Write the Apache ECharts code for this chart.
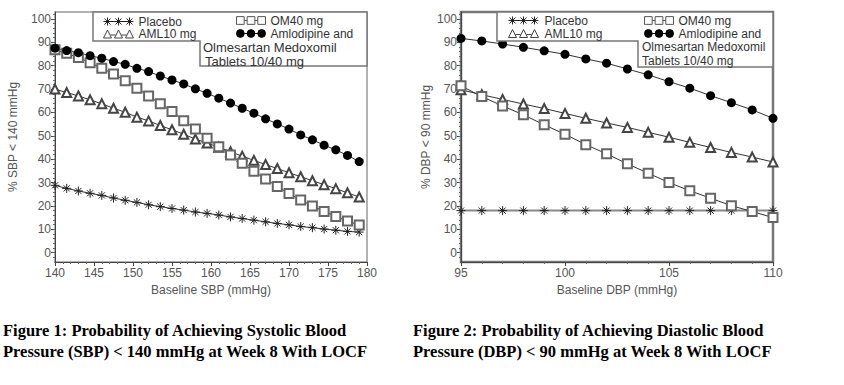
<!DOCTYPE html>
<html><head><meta charset="utf-8">
<script src="https://cdn.jsdelivr.net/npm/echarts@6/dist/echarts.min.js"></script>
<style>html,body{margin:0;padding:0;background:#fff}#c{width:844px;height:385px}</style>
</head><body><div id="c"></div>
<script>
// ---- Figure 1 data (Baseline SBP) ----
const sbpX = [140, 141.5, 143, 144.5, 146, 147.5, 149, 150.5, 152, 153.5, 155, 156.5, 158, 159.5, 161, 162.5, 164, 165.5, 167, 168.5, 170, 171.5, 173, 174.5, 176, 177.5, 179];
const sbpPlacebo = [28.8, 27.5, 26.4, 25.4, 24.5, 23.4, 22.4, 21.5, 20.5, 19.7, 18.9, 18.2, 17.4, 16.8, 16.1, 15.3, 14.6, 13.9, 13.2, 12.5, 11.9, 11.2, 10.7, 10.1, 9.6, 9.1, 8.8];
const sbpAML = [70, 68.5, 67.1, 65.4, 63.7, 61.8, 60.1, 58, 56.4, 54.4, 52.6, 50.7, 48.6, 46.9, 45.1, 43.2, 41.3, 39.5, 37.7, 36, 34.2, 32.5, 30.8, 29.1, 27.4, 25.6, 23.8];
const sbpOM = [86.8, 85.3, 83.5, 81.3, 78.9, 76.5, 73.6, 70.4, 67.1, 63.7, 60.4, 56.5, 52.9, 49, 45.3, 41.8, 38.3, 34.8, 31.5, 28.3, 25.3, 22.5, 20, 17.6, 15.5, 13.5, 11.8];
const sbpCombo = [87.5, 86.5, 85.6, 84.3, 83.2, 81.8, 80.6, 78.9, 77.5, 75.6, 73.9, 72.2, 70.1, 68.2, 66.1, 64, 61.8, 59.7, 57.3, 55.1, 52.9, 50.4, 48.3, 46, 44, 41.6, 39];

// ---- Figure 2 data (Baseline DBP) ----
const dbpX = [95, 96, 97, 98, 99, 100, 101, 102, 103, 104, 105, 106, 107, 108, 109, 110];
const dbpPlacebo = [18, 18, 18, 18, 18, 18, 18, 18, 18, 18, 18, 18, 18, 18, 18, 18];
const dbpAML = [69.7, 67.6, 65.6, 63.6, 61.7, 59.6, 57.5, 55.5, 53.6, 51.5, 49.4, 47.2, 45, 42.9, 40.9, 38.8];
const dbpOM = [71.4, 66.8, 62.8, 59, 54.7, 50.7, 46.2, 42.3, 38, 34, 30, 26.5, 23.3, 20.1, 17.6, 15];
const dbpCombo = [91.7, 90.6, 89.3, 87.9, 86.4, 84.9, 82.9, 81.1, 78.6, 76.1, 73.2, 70.4, 67.2, 64.2, 61.1, 57.5];

// ---- ticks / labels ----
const yTicks = [0, 10, 20, 30, 40, 50, 60, 70, 80, 90, 100];
const yMinorTicks = [-2, 0, 2, 4, 6, 8, 10, 12, 14, 16, 18, 20, 22, 24, 26, 28, 30, 32, 34, 36, 38, 40, 42, 44, 46, 48, 50, 52, 54, 56, 58, 60, 62, 64, 66, 68, 70, 72, 74, 76, 78, 80, 82, 84, 86, 88, 90, 92, 94, 96, 98, 100, 102];
const nPlacebo = 'Placebo', nAML = 'AML10 mg', nOM = 'OM40 mg';
const nCombo = 'Amlodipine and Olmesartan Medoxomil Tablets 10/40 mg';
const comboLine1 = 'Amlodipine and', comboLine2 = 'Olmesartan Medoxomil', comboLine3 = 'Tablets 10/40 mg';
const cap1 = 'Figure 1: Probability of Achieving Systolic Blood\nPressure (SBP) < 140 mmHg at Week 8 With LOCF';
const cap2 = 'Figure 2: Probability of Achieving Diastolic Blood\nPressure (DBP) < 90 mmHg at Week 8 With LOCF';

const FONT = 'Liberation Sans';
const starPath = 'path://M5,0L5,10M0,5L10,5M1.6,1.6L8.4,8.4M8.4,1.6L1.6,8.4';
// legend icons: three markers joined by a line
const iconStar = 'path://M0,4L30,4M4,0L4,8M1,1L7,7M7,1L1,7M15,0L15,8M12,1L18,7M18,1L12,7M26,0L26,8M23,1L29,7M29,1L23,7';
const iconTri = 'path://M0,8L4,0L8,8ZM7,5L12,5M11,8L15,0L19,8ZM18,5L23,5M22,8L26,0L30,8Z';
const iconRect = 'path://M0,0L8,0L8,8L0,8ZM8,4L11,4M11,0L19,0L19,8L11,8ZM19,4L22,4M22,0L30,0L30,8L22,8Z';
const iconCircle = 'path://M0,4A4,4,0,1,1,8,4A4,4,0,1,1,0,4ZM8,4L11,4M11,4A4,4,0,1,1,19,4A4,4,0,1,1,11,4ZM19,4L22,4M22,4A4,4,0,1,1,30,4A4,4,0,1,1,22,4Z';

const styles = {};
styles[nPlacebo] = {symbol: starPath, symbolSize: 9, itemStyle: {color: '#222', borderColor: '#222', borderWidth: 1}};
styles[nAML] = {symbol: 'emptyTriangle', symbolSize: 9, itemStyle: {color: '#444', borderWidth: 1}};
styles[nOM] = {symbol: 'emptyRect', symbolSize: 9, itemStyle: {color: '#666', borderWidth: 1}};
styles[nCombo] = {symbol: 'circle', symbolSize: 9, itemStyle: {color: '#000'}};

const legendItems = {};
legendItems[nPlacebo] = {name: nPlacebo, icon: iconStar, itemStyle: {color: 'none', borderColor: '#222', borderWidth: 1}};
legendItems[nAML] = {name: nAML, icon: iconTri, itemStyle: {color: '#fff', borderColor: '#444', borderWidth: 1}};
legendItems[nOM] = {name: nOM, icon: iconRect, itemStyle: {color: '#fff', borderColor: '#555', borderWidth: 1}};
legendItems[nCombo] = {name: nCombo, icon: iconCircle, itemStyle: {color: '#000', borderColor: '#000', borderWidth: 1}};

function mk(name, xs, ys, xi, yi, lineExtra) {
  const s = styles[name];
  return Object.assign({
    type: 'line', name: name, xAxisIndex: xi, yAxisIndex: yi,
    data: xs.map((x, i) => [x, ys[i]]),
    lineStyle: Object.assign({color: '#333', width: 1}, lineExtra || {}),
    emphasis: {disabled: true}, animation: false, z: 2
  }, s);
}

function xAxis(gi, min, max, name) {
  return {
    type: 'value', gridIndex: gi, min: min, max: max, interval: 5,
    axisLine: {show: true, onZero: false, lineStyle: {color: '#444', width: 1}},
    axisTick: {show: true, length: 4, lineStyle: {color: '#444'}},
    minorTick: {show: true, splitNumber: 5, length: 2, lineStyle: {color: '#666'}},
    axisLabel: {color: '#555', fontSize: 12, fontFamily: FONT, margin: 5},
    splitLine: {show: false}, minorSplitLine: {show: false},
    name: name, nameLocation: 'middle', nameGap: 21,
    nameTextStyle: {color: '#555', fontSize: 12, fontFamily: FONT}
  };
}
function yAxisMain(gi, name, gap) {
  return {
    type: 'value', gridIndex: gi, min: -4, max: 103, position: 'left',
    axisLine: {show: true, onZero: false, lineStyle: {color: '#444', width: 1}},
    axisTick: {show: true, customValues: yTicks, length: 4, lineStyle: {color: '#444'}},
    axisLabel: {customValues: yTicks, color: '#555', fontSize: 12, fontFamily: FONT, margin: 4},
    splitLine: {show: false},
    name: name, nameLocation: 'middle', nameGap: gap,
    nameTextStyle: {color: '#555', fontSize: 12, fontFamily: FONT}
  };
}
function yAxisMinor(gi) {
  return {
    type: 'value', gridIndex: gi, min: -4, max: 103, position: 'left', offset: 0,
    axisLine: {show: false},
    axisTick: {show: true, customValues: yMinorTicks, length: 2, lineStyle: {color: '#666'}},
    axisLabel: {show: false}, splitLine: {show: false}
  };
}

const fmt = n => (n === nCombo ? comboLine1 : n);
function legend(left, top, w, lh, names) {
  return {left: left, top: top, orient: 'vertical', padding: 0, itemGap: 0,
    itemWidth: w, itemHeight: 8, data: names.map(n => legendItems[n]), selectedMode: false,
    textStyle: {fontSize: 12, lineHeight: lh, color: '#333', fontFamily: FONT}, formatter: fmt, z: 6};
}

const chart = echarts.init(document.getElementById('c'), null, {renderer: 'svg'});
chart.setOption({
  backgroundColor: '#fff',
  animation: false,
  title: [
    {text: cap1, left: 3, top: 320, padding: 0,
     textStyle: {fontFamily: 'Liberation Serif', fontWeight: 'bold', fontSize: 16.5, lineHeight: 21, color: '#000'}},
    {text: cap2, left: 413, top: 320, padding: 0,
     textStyle: {fontFamily: 'Liberation Serif', fontWeight: 'bold', fontSize: 16.5, lineHeight: 21, color: '#000'}}
  ],
  grid: [
    {left: 55, right: 477, top: 12, bottom: 123, show: true, borderColor: '#999', borderWidth: 1.5, backgroundColor: 'transparent'},
    {left: 461, right: 71, top: 12, bottom: 123, show: true, borderColor: '#777', borderWidth: 2.5, backgroundColor: 'transparent'}
  ],
  xAxis: [xAxis(0, 140, 180, 'Baseline SBP (mmHg)'), xAxis(1, 95, 110, 'Baseline DBP (mmHg)')],
  yAxis: [yAxisMain(0, '% SBP < 140 mmHg', 36), yAxisMinor(0), yAxisMain(1, '% DBP < 90 mmHg', 29), yAxisMinor(1)],
  legend: [
    legend(101, 15, 30, 12, [nPlacebo, nAML]),
    legend(236, 14, 29, 13, [nOM, nCombo]),
    legend(506, 14, 32, 13, [nPlacebo, nAML]),
    legend(644, 14, 29, 13, [nOM, nCombo])
  ],
  graphic: [
    {type: 'polygon', z: 3, shape: {points: [[93, 12], [367, 12], [367, 66], [200, 66], [200, 41], [93, 41]]},
     style: {fill: '#fff', stroke: '#777', lineWidth: 1.5}},
    {type: 'polygon', z: 3, shape: {points: [[497, 12], [773, 12], [773, 67], [638, 67], [638, 41], [497, 41]]},
     style: {fill: '#fff', stroke: '#777', lineWidth: 1.5}},
    {type: 'text', z: 7, x: 203, y: 47, style: {text: comboLine2, fontSize: 13, lineHeight: 13, fontFamily: FONT, fill: '#333', verticalAlign: 'middle'}},
    {type: 'text', z: 7, x: 205, y: 61, style: {text: comboLine3, fontSize: 13, lineHeight: 13, fontFamily: FONT, fill: '#333', verticalAlign: 'middle'}},
    {type: 'text', z: 7, x: 642, y: 47, style: {text: comboLine2, fontSize: 12, lineHeight: 13, fontFamily: FONT, fill: '#333', verticalAlign: 'middle'}},
    {type: 'text', z: 7, x: 642, y: 61, style: {text: comboLine3, fontSize: 12, lineHeight: 13, fontFamily: FONT, fill: '#333', verticalAlign: 'middle'}}
  ],
  series: [
    mk(nPlacebo, sbpX, sbpPlacebo, 0, 0),
    mk(nAML, sbpX, sbpAML, 0, 0),
    mk(nOM, sbpX, sbpOM, 0, 0),
    mk(nCombo, sbpX, sbpCombo, 0, 0),
    mk(nPlacebo, dbpX, dbpPlacebo, 1, 2, {color: '#888', width: 2}),
    mk(nAML, dbpX, dbpAML, 1, 2),
    mk(nOM, dbpX, dbpOM, 1, 2),
    mk(nCombo, dbpX, dbpCombo, 1, 2)
  ]
});
</script>
</body></html>
